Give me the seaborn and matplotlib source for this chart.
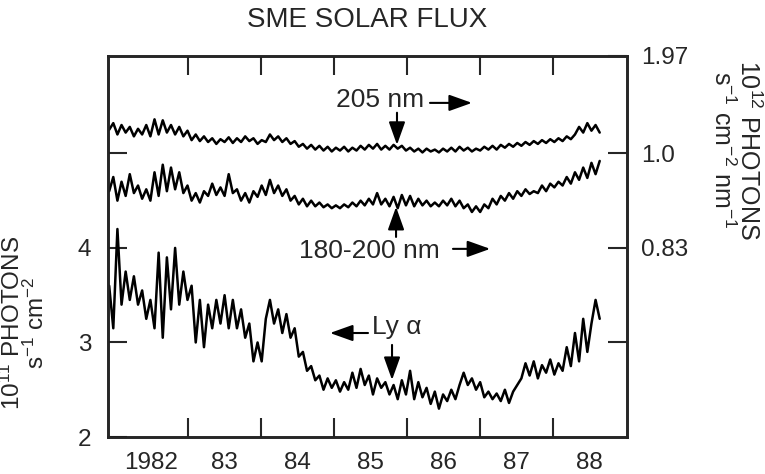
import numpy as np
import pandas as pd
import matplotlib
matplotlib.use("Agg")
import matplotlib.pyplot as plt
import seaborn as sns

# ---- data (values in left-axis units) ----
t_start, t_end = 1981.92, 1988.64

ly_alpha = [3.60, 3.15, 4.20, 3.40, 3.75, 3.45, 3.70, 3.40, 3.55, 3.25,
            3.45, 3.15, 3.95, 3.05, 3.90, 3.35, 4.00, 3.40, 3.75, 3.45,
            3.60, 3.00, 3.45, 2.95, 3.40, 3.15, 3.45, 3.20, 3.50, 3.15,
            3.45, 3.15, 3.35, 3.05, 3.20, 2.80, 3.00, 2.80, 3.25, 3.45,
            3.20, 3.35, 3.10, 3.30, 3.05, 3.15, 2.85, 2.90, 2.70, 2.75,
            2.60, 2.65, 2.50, 2.62, 2.52, 2.60, 2.48, 2.58, 2.50, 2.68,
            2.52, 2.72, 2.55, 2.65, 2.45, 2.62, 2.52, 2.58, 2.45, 2.55,
            2.40, 2.60, 2.45, 2.70, 2.40, 2.58, 2.42, 2.52, 2.35, 2.48,
            2.30, 2.45, 2.38, 2.50, 2.40, 2.55, 2.68, 2.55, 2.62, 2.50,
            2.58, 2.42, 2.48, 2.40, 2.46, 2.38, 2.50, 2.36, 2.48, 2.55,
            2.62, 2.78, 2.65, 2.80, 2.62, 2.76, 2.68, 2.82, 2.66, 2.78,
            2.70, 2.95, 2.75, 3.10, 2.80, 3.25, 2.90, 3.20, 3.45, 3.25]

band_180_200 = [4.60, 4.75, 4.50, 4.70, 4.55, 4.78, 4.58, 4.66, 4.52, 4.62,
                4.50, 4.80, 4.55, 4.88, 4.60, 4.85, 4.62, 4.80, 4.58, 4.66,
                4.50, 4.58, 4.48, 4.60, 4.55, 4.68, 4.56, 4.64, 4.55, 4.78,
                4.58, 4.62, 4.50, 4.58, 4.48, 4.60, 4.54, 4.66, 4.56, 4.72,
                4.58, 4.66, 4.55, 4.62, 4.50, 4.55, 4.46, 4.52, 4.44, 4.50,
                4.44, 4.48, 4.43, 4.46, 4.42, 4.45, 4.42, 4.46, 4.43, 4.48,
                4.44, 4.50, 4.45, 4.52, 4.46, 4.58, 4.46, 4.52, 4.44, 4.54,
                4.42, 4.56, 4.45, 4.55, 4.44, 4.52, 4.45, 4.50, 4.44, 4.48,
                4.44, 4.50, 4.45, 4.52, 4.44, 4.50, 4.42, 4.46, 4.38, 4.44,
                4.38, 4.46, 4.42, 4.52, 4.46, 4.55, 4.50, 4.58, 4.52, 4.60,
                4.55, 4.62, 4.57, 4.60, 4.58, 4.66, 4.60, 4.68, 4.64, 4.70,
                4.66, 4.75, 4.68, 4.80, 4.72, 4.85, 4.74, 4.90, 4.78, 4.92]

band_205 = [5.25, 5.32, 5.20, 5.30, 5.22, 5.28, 5.18, 5.26, 5.20, 5.30,
            5.18, 5.36, 5.20, 5.35, 5.22, 5.30, 5.20, 5.28, 5.18, 5.24,
            5.14, 5.20, 5.13, 5.18, 5.12, 5.16, 5.10, 5.15, 5.12, 5.17,
            5.11, 5.16, 5.12, 5.18, 5.13, 5.16, 5.10, 5.14, 5.12, 5.20,
            5.14, 5.18, 5.12, 5.16, 5.10, 5.13, 5.07, 5.10, 5.05, 5.09,
            5.04, 5.08, 5.03, 5.07, 5.02, 5.06, 5.03, 5.07, 5.02, 5.06,
            5.03, 5.08, 5.04, 5.09, 5.05, 5.10, 5.04, 5.08, 5.04, 5.09,
            5.05, 5.08, 5.03, 5.06, 5.02, 5.05, 5.01, 5.05, 5.02, 5.04,
            5.01, 5.05, 5.02, 5.06, 5.02, 5.07, 5.03, 5.06, 5.02, 5.05,
            5.03, 5.07, 5.04, 5.08, 5.04, 5.09, 5.06, 5.10, 5.07, 5.11,
            5.08, 5.12, 5.09, 5.13, 5.10, 5.14, 5.11, 5.15, 5.12, 5.16,
            5.13, 5.18, 5.15, 5.20, 5.28, 5.22, 5.32, 5.24, 5.30, 5.22]

year_ticks = [1983, 1984, 1985, 1986, 1987, 1988]
year_label_pos = [1982.5, 1983.5, 1984.5, 1985.5, 1986.5, 1987.5, 1988.5]
year_labels = ["1982", "83", "84", "85", "86", "87", "88"]
left_ticks = [2, 3, 4, 5]
left_labels = ["2", "3", "4", ""]
right_ticks = [3, 4, 5, 6.03]
right_labels = ["", "0.83", "1.0", "1.97"]

# ---- figure ----
sns.set_style("ticks")
plt.rcParams["font.family"] = ["Liberation Sans", "DejaVu Sans"]
plt.rcParams["mathtext.fontset"] = "custom"
plt.rcParams["mathtext.rm"] = "Liberation Sans"
plt.rcParams["mathtext.default"] = "regular"

fig = plt.figure(figsize=(7.65, 4.74), dpi=100)
ax = fig.add_axes([108 / 765, 1 - 437 / 474, (627 - 108) / 765, (437 - 56) / 474])

t = np.linspace(t_start, t_end, len(ly_alpha))
df = pd.DataFrame({"year": np.concatenate([t, t, t]),
                   "flux": ly_alpha + band_180_200 + band_205,
                   "series": ["Ly a"] * len(t) + ["180-200"] * len(t) + ["205"] * len(t)})
for name in ["Ly a", "180-200", "205"]:
    sub = df[df["series"] == name]
    sns.lineplot(data=sub, x="year", y="flux", color="black", lw=1.8, ax=ax,
                 legend=False, estimator=None)

ax.set_xlim(1981.904, 1989.014)
ax.set_ylim(2, 6.03)
ax.set_xlabel("")
ax.set_ylabel("")

ax.set_xticks(year_ticks)
ax.set_xticklabels([""] * len(year_ticks))
ax.set_xticks(year_label_pos, minor=True)
ax.set_xticklabels(year_labels, minor=True)
ax.tick_params(axis="x", which="major", direction="in", length=14, width=1.5,
               top=True, bottom=True)
ax.tick_params(axis="x", which="minor", length=0, pad=11, labelsize=17.5)

ax.set_yticks(left_ticks)
ax.set_yticklabels(left_labels)
ax.tick_params(axis="y", which="major", direction="in", length=14, width=1.5,
               pad=12, labelsize=17.5)

for sp in ax.spines.values():
    sp.set_linewidth(1.8)
    sp.set_color("black")

ax2 = ax.twinx()
ax2.set_ylim(ax.get_ylim())
ax2.set_yticks(right_ticks)
ax2.set_yticklabels(right_labels)
ax2.tick_params(axis="y", direction="in", length=14, width=1.5, pad=10,
                labelsize=17.5)
for sp in ax2.spines.values():
    sp.set_linewidth(1.8)

# ---- annotations ----
afs = 19
arrow_kw = dict(arrowstyle="-|>,head_length=1.4,head_width=0.5",
                color="black", lw=1.5, shrinkA=0, shrinkB=0)

ax.text(1985.63, 5.566, "205 nm", ha="center", va="center", fontsize=afs)
ax.annotate("", xy=(1986.89, 5.534), xytext=(1986.315, 5.534),
            arrowprops=arrow_kw)
ax.annotate("", xy=(1985.863, 5.09), xytext=(1985.863, 5.43),
            arrowprops=arrow_kw)

ax.text(1985.49, 3.968, "180-200 nm", ha="center", va="center", fontsize=afs)
ax.annotate("", xy=(1987.14, 3.99), xytext=(1986.63, 3.99),
            arrowprops=arrow_kw)
ax.annotate("", xy=(1985.85, 4.434), xytext=(1985.85, 4.116),
            arrowprops=arrow_kw)

ax.text(1985.52, 3.164, "Ly α", ha="left", va="center", fontsize=afs,
        family=["Liberation Sans", "DejaVu Sans"])
ax.annotate("", xy=(1984.945, 3.10), xytext=(1985.466, 3.10),
            arrowprops=arrow_kw)
ax.annotate("", xy=(1985.795, 2.603), xytext=(1985.795, 2.974),
            arrowprops=arrow_kw)

# ---- titles / axis labels ----
fig.text(367 / 765, 1 - 20 / 474, "SME SOLAR FLUX", ha="center", va="center",
         fontsize=20)
fig.text(24 / 765, 1 - 323 / 474, "10$^{11}$ PHOTONS\ns$^{-1}$ cm$^{-2}$",
         rotation=90, ha="center", va="center", multialignment="center",
         fontsize=17.5, linespacing=0.95)
fig.text(735 / 765, 1 - 150 / 474, "10$^{12}$ PHOTONS\ns$^{-1}$ cm$^{-2}$ nm$^{-1}$",
         rotation=270, ha="center", va="center", multialignment="center",
         fontsize=18, linespacing=1.0)

fig.savefig("out.png", dpi=100)
